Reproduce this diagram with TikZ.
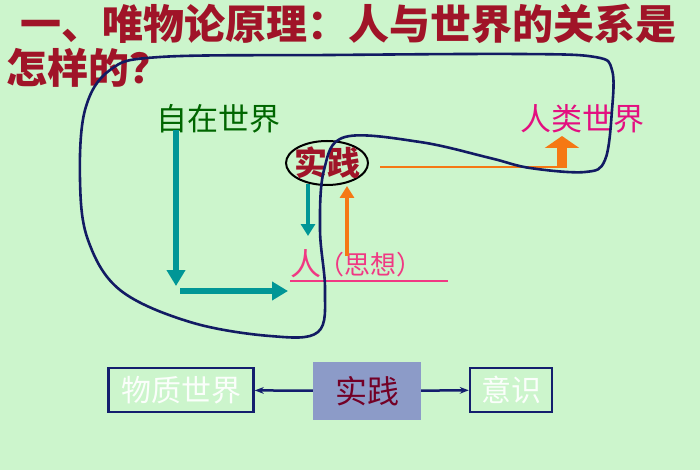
\documentclass[tikz,border=0pt]{standalone}
\usepackage{fontspec}
\newfontfamily\cjk{Noto Sans CJK SC}
\usetikzlibrary{positioning,shapes.geometric,arrows.meta}
\definecolor{bg}{RGB}{204,245,204}
\definecolor{titlered}{RGB}{160,20,40}
\definecolor{teal}{RGB}{0,150,150}
\definecolor{orng}{RGB}{245,120,20}
\definecolor{navy}{RGB}{20,30,110}
\definecolor{boxfill}{RGB}{140,155,200}
\tikzset{
  lbl/.style={font=\cjk\fontsize{31}{31}\selectfont, inner sep=0pt},
  bigarrow/.style={line width=6pt, -{Triangle[length=16pt,width=18pt]}},
  framebox/.style={draw=navy, line width=2.5pt, minimum height=44pt, font=\cjk\fontsize{30}{30}\selectfont, text=white!92!bg}
}
\begin{document}
\begin{tikzpicture}[x=1pt,y=-1pt]
        % Background
        \fill[bg] (0,0) rectangle (700,470);
        \useasboundingbox (0,0) rectangle (700,470);

        % Title
        \node[anchor=west,lbl,font=\cjk\bfseries\fontsize{41}{41}\selectfont,text=titlered] (t1) at (20,24) {一、唯物论原理：人与世界的关系是};
        \node[anchor=west,lbl,font=\cjk\bfseries\fontsize{41}{41}\selectfont,text=titlered] (t2) at (6,68) {怎样的？};

        % Worlds
        \node[lbl,anchor=west,text=green!40!black] (nat) at (156,119) {自在世界};
        \node[lbl,anchor=west,text=magenta!80!purple] (hum) at (520,119) {人类世界};

        % Practice and man
        \node[draw,ellipse,line width=2pt,minimum width=82pt,minimum height=44pt] (pr) at (327,163) {};
        \node[lbl,font=\cjk\bfseries\fontsize{33}{33}\selectfont,text=titlered] at (pr) {实践};
        \node[lbl,anchor=west,text=magenta!70!red!80!white] (man) at (290,264) {人};
        \node[lbl,anchor=west,font=\cjk\fontsize{26}{26}\selectfont,text=magenta!70!red!80!white] (thought) at (318,265) {（思想）};
        \draw[magenta!70!red!80!white,line width=1.5pt] (290,281) -- (448,281);

        % Teal arrows
        \draw[teal,bigarrow] (176,130) -- (176,286);
        \draw[teal,bigarrow] (180,291) -- (288,291);
        \draw[teal,line width=4pt,-{Triangle[length=12pt,width=14pt]}] (308,184) -- (308,236);

        % Orange arrows
        \draw[orng,line width=4pt,-{Triangle[length=12pt,width=14pt]}] (347,256) -- (347,186);
        \draw[orng,line width=2pt] (380,167) -- (562,167);
        \draw[orng,line width=10pt,-{Triangle[length=12pt,width=34pt]}] (562,168) -- (562,136);

        % Loop
        \draw[navy!90!black,line width=2.6pt] plot[smooth cycle,tension=0.6] coordinates {
          (345,137) (420,142) (490,158) (530,168) (585,172) (605,160) (612,110)
          (612,70) (595,57) (520,54) (330,55) (160,57) (110,70) (85,110) (80,180)
          (88,240) (120,290) (190,322) (270,336) (318,332) (325,290) (320,230) (324,170)};

        % Bottom boxes
        \node[framebox,minimum width=145pt] (mat) at (181,390) {物质世界};
        \node[fill=boxfill,minimum width=108pt,minimum height=58pt,font=\cjk\fontsize{32}{32}\selectfont,text=purple!60!black] (pr2) at (367,391) {实践};
        \node[framebox,minimum width=82pt] (con) at (511,390) {意识};
        \draw[navy,line width=2.5pt,-{Stealth[length=9pt]}] (pr2) -- (mat);
        \draw[navy,line width=2.5pt,-{Stealth[length=9pt]}] (pr2) -- (con);
\end{tikzpicture}
\end{document}
